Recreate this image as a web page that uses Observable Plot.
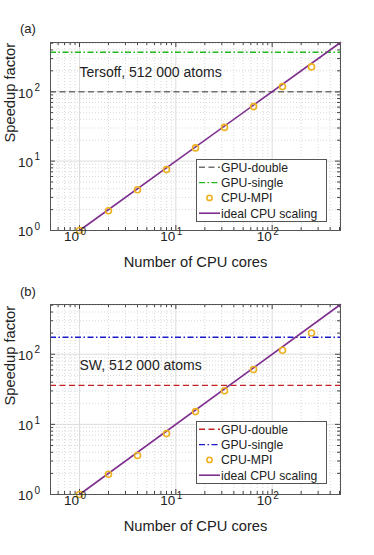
<!DOCTYPE html>
<html>
<head>
<meta charset="utf-8">
<script src="https://cdn.jsdelivr.net/npm/d3@7"></script>
<script src="https://cdn.jsdelivr.net/npm/@observablehq/plot@0.6"></script>
<style>
  body { margin: 0; background: #fff; font-family: "Liberation Sans", Arial, sans-serif; }
  #wrap { position: relative; width: 374px; height: 555px; overflow: hidden; }
  .panel { position: absolute; left: 0; }
  .legend { position: absolute; background: #fff; border: 1px solid #555; box-sizing: border-box; }
  .legend svg { display: block; }
</style>
</head>
<body>
<div id="wrap"></div>
<script>
// ---- data ----
const cores = [1, 2, 4, 8, 16, 32, 64, 128, 256];
const speedupTersoff = [1, 1.93, 3.87, 7.54, 15.5, 30.6, 61, 118.6, 228];
const speedupSW = [1, 1.94, 3.59, 7.38, 15.2, 30.2, 60.6, 114, 201];
const gpuDoubleTersoff = 100;
const gpuSingleTersoff = 370;
const gpuDoubleSW = 36;
const gpuSingleSW = 175;
const idealCores = [1, 512];
const panelLabels = ["(a)", "(b)"];
const annotations = ["Tersoff, 512 000 atoms", "SW, 512 000 atoms"];
const legendLabels = ["GPU-double", "GPU-single", "CPU-MPI", "ideal CPU scaling"];
const majorTicks = [1, 10, 100];
const tickExponents = ["0", "1", "2"];
const xDomain = [0.5, 512];
const yDomain = [1, 512];
const xTitle = "Number of CPU cores";
const yTitle = "Speedup factor";

// ---- helpers ----
function minorTicks(lo, hi) {
  const out = [];
  for (let d = 0.1; d < hi; d *= 10)
    for (let m = 2; m <= 9; m++) {
      const v = m * d;
      if (v > lo && v < hi) out.push(v);
    }
  return out;
}
const xMinor = minorTicks(xDomain[0], xDomain[1]);
const yMinor = minorTicks(yDomain[0], yDomain[1]);
const xMajor = majorTicks.filter(v => v >= xDomain[0] && v <= xDomain[1]);
const yMajor = majorTicks.filter(v => v >= yDomain[0] && v <= yDomain[1]);

const ORANGE = "#EDB120", PURPLE = "#7E2F8E";
const TXT = "#222";
const DASH = "6,3.5", DASHDOT = "6,2.5,1.5,2.5";
const FONT = '"Liberation Sans", Arial, sans-serif';

function panel(cfg) {
  const {top, height, mt, mb, speed, gD, gS, cD, cS, label, note} = cfg;
  const W = 374, ml = 50, mr = 34;
  const ph = height - mt - mb, pw = W - ml - mr;
  const mjr = 5, mnr = 3;
  const fig = Plot.plot({
    width: W, height,
    marginTop: mt, marginBottom: mb, marginLeft: ml, marginRight: mr,
    style: {fontFamily: FONT, background: "transparent", color: TXT},
    x: {type: "log", domain: xDomain, axis: null},
    y: {type: "log", domain: yDomain, axis: null},
    marks: [
      // grids
      Plot.ruleX(xMinor, {stroke: "#cfcfcf", strokeDasharray: "1,2", strokeWidth: 0.8}),
      Plot.ruleY(yMinor, {stroke: "#cfcfcf", strokeDasharray: "1,2", strokeWidth: 0.8}),
      Plot.ruleX(xMajor, {stroke: "#dcdcdc", strokeWidth: 1}),
      Plot.ruleY(yMajor, {stroke: "#dcdcdc", strokeWidth: 1}),
      // inward ticks (bottom/top/left/right)
      Plot.tickX(xMajor, {stroke: "#444", insetTop: ph - mjr}),
      Plot.tickX(xMajor, {stroke: "#444", insetBottom: ph - mjr}),
      Plot.tickX(xMinor, {stroke: "#444", insetTop: ph - mnr}),
      Plot.tickX(xMinor, {stroke: "#444", insetBottom: ph - mnr}),
      Plot.tickY(yMajor, {stroke: "#444", insetRight: pw - mjr}),
      Plot.tickY(yMajor, {stroke: "#444", insetLeft: pw - mjr}),
      Plot.tickY(yMinor, {stroke: "#444", insetRight: pw - mnr}),
      Plot.tickY(yMinor, {stroke: "#444", insetLeft: pw - mnr}),
      // data
      Plot.ruleY([gD], {stroke: cD, strokeWidth: 1.4, strokeDasharray: DASH}),
      Plot.ruleY([gS], {stroke: cS, strokeWidth: 1.4, strokeDasharray: DASHDOT}),
      Plot.line(idealCores, {x: d => d, y: d => d, stroke: PURPLE, strokeWidth: 1.6}),
      Plot.dot(cores, {x: d => d, y: (d, i) => speed[i], r: 3, stroke: ORANGE, strokeWidth: 1.6, fill: "none"}),
      Plot.frame({stroke: "#555", strokeWidth: 1}),
      // tick labels x
      Plot.text(xMajor, {x: d => d, text: () => "10", frameAnchor: "bottom", dy: 10.5, textAnchor: "end", dx: -0.5, fontSize: 13.5, fill: TXT}),
      Plot.text(xMajor, {x: d => d, text: (d) => tickExponents[majorTicks.indexOf(d)], frameAnchor: "bottom", dy: 4, textAnchor: "start", dx: 1, fontSize: 10, fill: TXT}),
      // tick labels y
      Plot.text(yMajor, {y: d => d, text: () => "10", frameAnchor: "left", dx: -17.5, dy: 1.5, textAnchor: "end", fontSize: 13.5, fill: TXT}),
      Plot.text(yMajor, {y: d => d, text: (d) => tickExponents[majorTicks.indexOf(d)], frameAnchor: "left", dx: -10.5, dy: -4, textAnchor: "end", fontSize: 10, fill: TXT}),
      // titles
      Plot.text([xTitle], {frameAnchor: "bottom", dy: 36, fontSize: 14.7, fill: TXT}),
      Plot.text([yTitle], {frameAnchor: "left", dx: -40, dy: 6, rotate: -90, fontSize: 14.7, fill: TXT}),
      Plot.text([label], {frameAnchor: "top-left", dx: -30.5, dy: cfg.labelDy, fontSize: 13, fill: TXT}),
      // annotation
      Plot.text([note], {x: 1, y: cfg.noteY, textAnchor: "start", fontSize: 14, fill: TXT})
    ]
  });
  const div = document.createElement("div");
  div.className = "panel";
  div.style.top = top + "px";
  div.appendChild(fig);

  // legend (inside plot area)
  const lg = document.createElement("div");
  lg.className = "legend";
  const lx = 196, ly = mt + 116.7, lw = 131, lh = 63.5;
  lg.style.left = lx + "px"; lg.style.top = ly + "px";
  lg.style.width = lw + "px"; lg.style.height = lh + "px";
  const rows = [
    {type: "line", stroke: cD, dash: DASH},
    {type: "line", stroke: cS, dash: DASHDOT},
    {type: "dot", stroke: ORANGE},
    {type: "line", stroke: PURPLE, dash: null, w: 1.6}
  ];
  const ns = "http://www.w3.org/2000/svg";
  const s = document.createElementNS(ns, "svg");
  s.setAttribute("width", lw - 2); s.setAttribute("height", lh - 2);
  rows.forEach((r, i) => {
    const cy = 7.3 + i * 15.3;
    if (r.type === "line") {
      const l = document.createElementNS(ns, "line");
      l.setAttribute("x1", 2); l.setAttribute("x2", 23);
      l.setAttribute("y1", cy); l.setAttribute("y2", cy);
      l.setAttribute("stroke", r.stroke);
      l.setAttribute("stroke-width", r.w || 1.4);
      if (r.dash) l.setAttribute("stroke-dasharray", r.dash);
      s.appendChild(l);
    } else {
      const c = document.createElementNS(ns, "circle");
      c.setAttribute("cx", 12.5); c.setAttribute("cy", cy); c.setAttribute("r", 2.6);
      c.setAttribute("fill", "none"); c.setAttribute("stroke", r.stroke); c.setAttribute("stroke-width", 1.6);
      s.appendChild(c);
    }
    const t = document.createElementNS(ns, "text");
    t.setAttribute("x", 24); t.setAttribute("y", cy);
    t.setAttribute("dy", "0.36em");
    t.setAttribute("font-size", 12.2);
    t.setAttribute("fill", TXT);
    t.setAttribute("font-family", FONT);
    t.textContent = legendLabels[i];
    s.appendChild(t);
  });
  lg.appendChild(s);
  div.appendChild(lg);
  return div;
}

const wrap = document.getElementById("wrap");
wrap.appendChild(panel({top: 0, height: 275, mt: 42, mb: 45, speed: speedupTersoff,
  gD: gpuDoubleTersoff, gS: gpuSingleTersoff, cD: "#707070", cS: "#1FB81F",
  label: panelLabels[0], note: annotations[0], noteY: 192, labelDy: -19}));
wrap.appendChild(panel({top: 275, height: 280, mt: 29, mb: 61, speed: speedupSW,
  gD: gpuDoubleSW, gS: gpuSingleSW, cD: "#C42222", cS: "#1A1ACC",
  label: panelLabels[1], note: annotations[1], noteY: 70, labelDy: -18}));
</script>
</body>
</html>
